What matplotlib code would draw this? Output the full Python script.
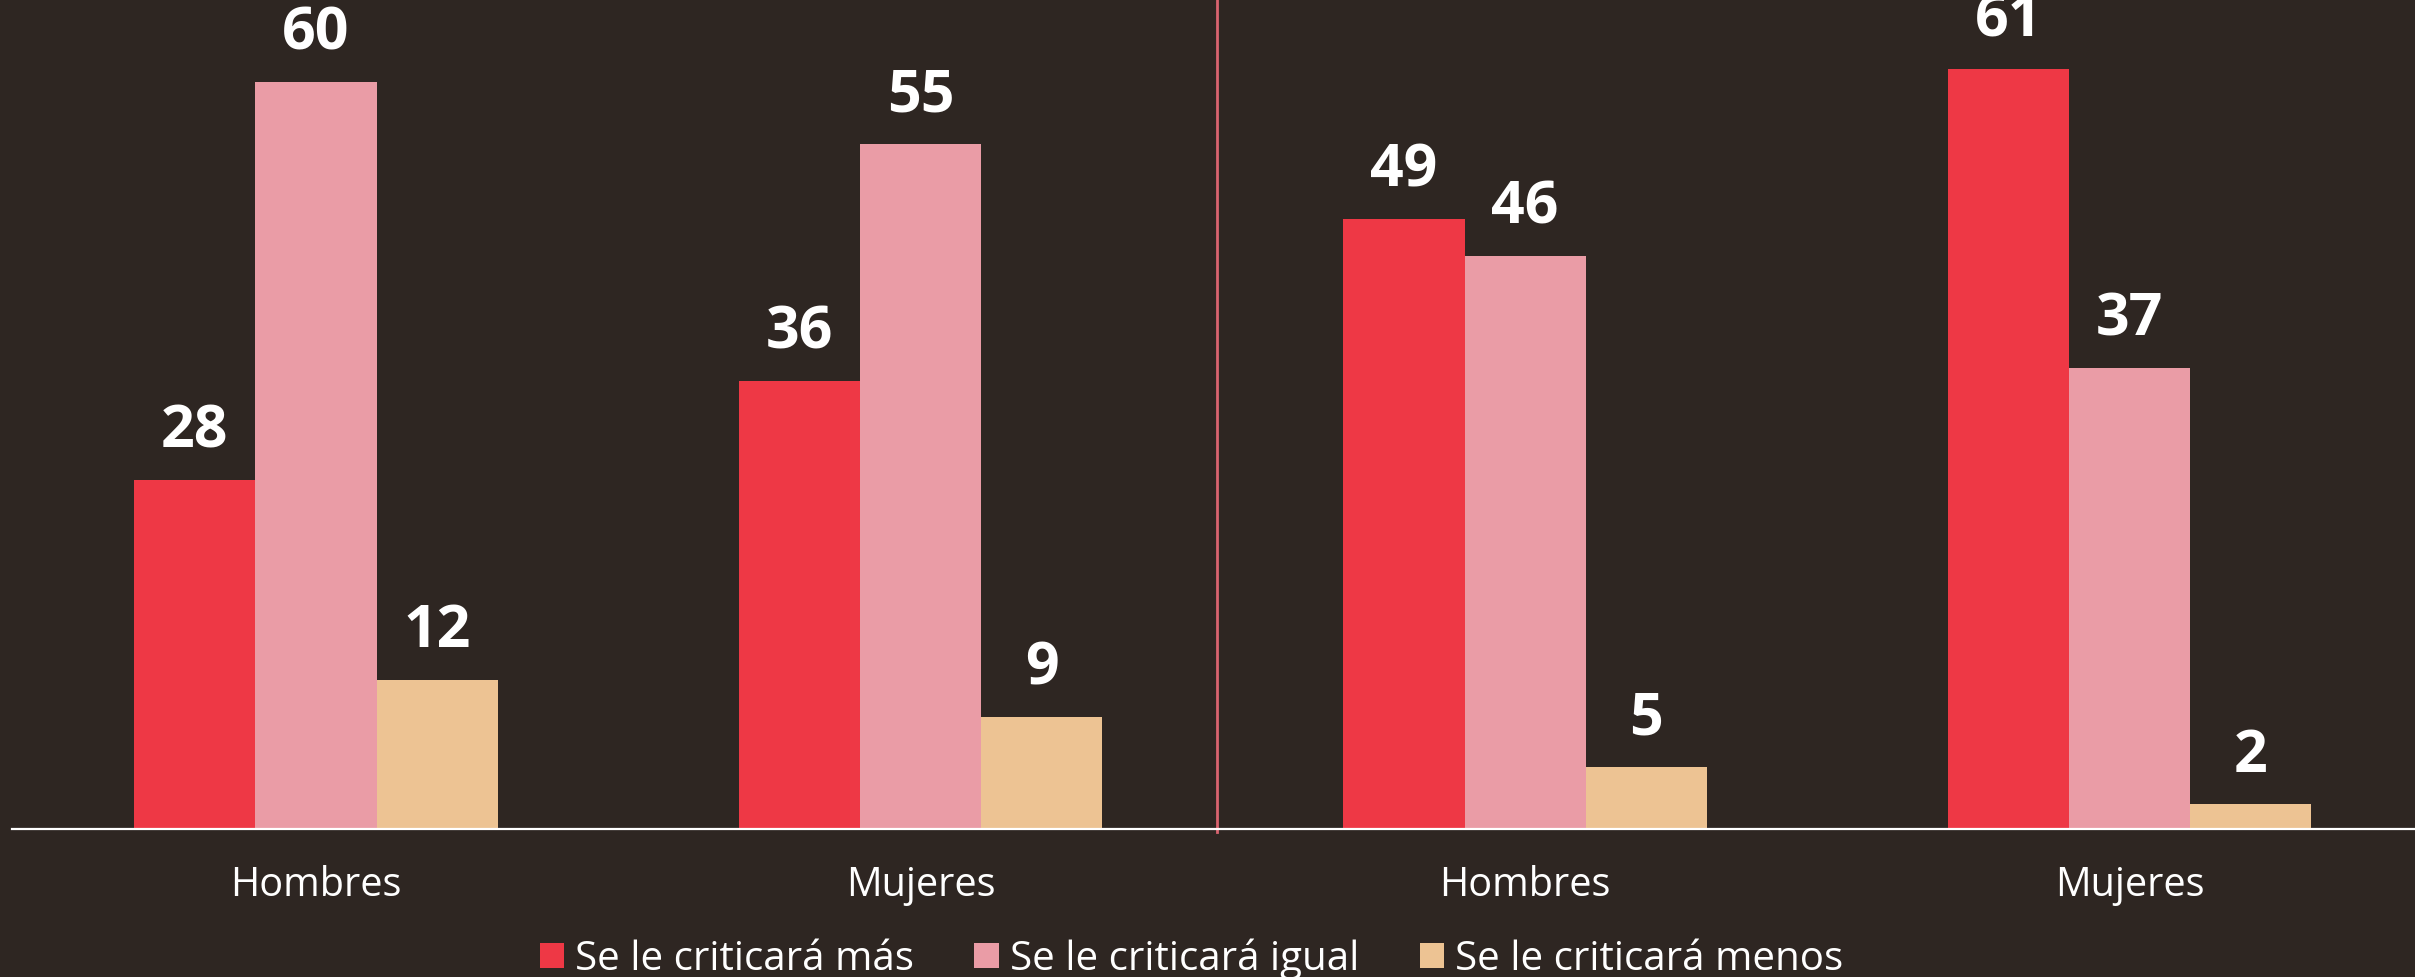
import matplotlib.pyplot as plt
import numpy as np

# data
groups = ['Hombres', 'Mujeres', 'Hombres', 'Mujeres']
mas = [28, 36, 49, 61]
igual = [60, 55, 46, 37]
menos = [12, 9, 5, 2]
series_names = ['Se le criticará más', 'Se le criticará igual', 'Se le criticará menos']

bg = '#2e2622'
colors = ['#ee3845', '#ea9ca6', '#edc393']

plt.rcParams['font.family'] = ['Open Sans', 'DejaVu Sans']

fig = plt.figure(figsize=(24.15, 9.77), dpi=100, facecolor=bg)
ax = fig.add_axes([12 / 2415, 0.1512, 1 - 12 / 2415, 0.8488])
ax.set_facecolor(bg)

x = np.arange(len(groups))
w = 0.2005
for i, (vals, c, name) in enumerate(zip([mas, igual, menos], colors, series_names)):
    bars = ax.bar(x + (i - 1) * w, vals, w, color=c, label=name, linewidth=0)
    for b, v in zip(bars, vals):
        ax.annotate(str(v), (b.get_x() + b.get_width() / 2, v), xytext=(0, 23.5),
                    textcoords='offset points', ha='center', va='baseline',
                    color='white', fontsize=42.5, fontweight='bold', annotation_clip=False)

# group names under the baseline
for xi, g in zip(x, groups):
    ax.annotate(g, (xi, 0), xytext=(0, -48), textcoords='offset points',
                ha='center', va='baseline', color='white', fontsize=28.5,
                annotation_clip=False)

# divider between the two halves
ax.axvline(1.49, ymin=-0.003, ymax=1, color='#d9636f', lw=2, clip_on=False)

ax.set_xlim(-0.503, 3.472)
ax.set_ylim(0, 66.56)
for s in ['top', 'right', 'left']:
    ax.spines[s].set_visible(False)
ax.spines['bottom'].set_color('white')
ax.spines['bottom'].set_linewidth(1.6)
ax.set_xticks([])
ax.set_yticks([])

fig.legend(loc='center', bbox_to_anchor=(1191.5 / 2415, 1 - 959 / 977), ncol=3,
           frameon=False, fontsize=29, labelcolor='white', handlelength=0.6,
           handleheight=0.6, handletextpad=0.28, columnspacing=1.5,
           borderpad=0, borderaxespad=0)

fig.savefig('out.png', dpi=100, facecolor=bg)
